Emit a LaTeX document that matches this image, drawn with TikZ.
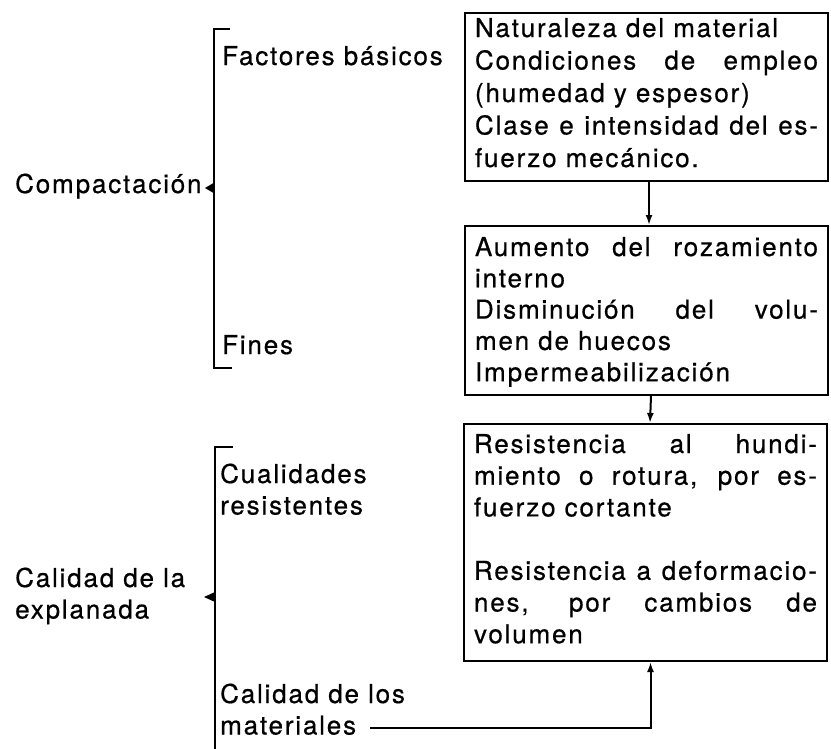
\documentclass[tikz,border=0pt]{standalone}
\usepackage{fontspec}
\setmainfont{TeX Gyre Heros}[LetterSpace=7,FakeBold=0.6]
\usetikzlibrary{arrows.meta,calc}
\newcommand\jl[1]{\makebox[\linewidth][s]{#1}}
\tikzset{
  box/.style={draw, line width=2pt, inner xsep=10pt, inner ysep=0pt, anchor=north west},
  lbl/.style={inner sep=0pt, anchor=base west, font=\fontsize{26}{31.5}\selectfont},
  arr/.style={line width=2pt, -{Latex[length=10pt,width=7pt]}},
  brk/.style={line width=2pt},
}
\begin{document}
\begin{tikzpicture}[x=1pt,y=-1pt]
\useasboundingbox (0,0) rectangle (831,748);
% boxes
\node[box] (b1) at (464,12) {\parbox[t][168pt][t]{343pt}{\fontsize{26}{32.5}\selectfont
\rule{0pt}{24pt}Naturaleza del material\\
\jl{Condiciones de empleo}\\
(humedad y espesor)\\
\jl{Clase e intensidad del es-}\\
fuerzo mecánico.}};
\node[box] (b2) at (464,225) {\parbox[t][169pt][t]{343pt}{\fontsize{26}{31.3}\selectfont
\rule{0pt}{30pt}\jl{Aumento del rozamiento}\\
interno\\
\jl{Disminución del volu-}\\
men de huecos\\
Impermeabilización}};
\node[box] (b3) at (463,423) {\parbox[t][237pt][t]{343pt}{\fontsize{26}{31.7}\selectfont
\rule{0pt}{29pt}\jl{Resistencia al hundi-}\\
\jl{miento o rotura, por es-}\\
fuerzo cortante\\
\mbox{}\\
\jl{Resistencia a deformacio-}\\
\jl{nes, por cambios de}\\
volumen}};
% left labels
\node[lbl] (comp) at (15,193) {Compactación};
\node[lbl] (fb) at (222,65) {Factores básicos};
\node[lbl] (fin) at (222,354) {Fines};
\node[lbl] (cual) at (220,483) {\begin{tabular}[t]{@{}l@{}}Cualidades\\resistentes\end{tabular}};
\node[lbl] (cal) at (15,587) {\begin{tabular}[t]{@{}l@{}}Calidad de la\\explanada\end{tabular}};
\node[lbl] (mat) at (220,703) {\begin{tabular}[t]{@{}l@{}}Calidad de los\\materiales\end{tabular}};
% brackets
\draw[brk] (230,29) -- (213.5,29) -- (213.5,368) -- (232,368);
\fill (213.5,183) -- (205,188) -- (213.5,193) -- cycle;
\draw[brk] (233,447) -- (215,447) -- (215,752);
\fill (215,592) -- (204,597) -- (215,602) -- cycle;
% connectors
\draw[arr] ([xshift=2.5pt]b1.south) -- ([xshift=2.5pt]b2.north);
\draw[arr] ([xshift=4.5pt]b2.south) -- ([xshift=4.5pt]b3.north);
\coordinate (fe) at (370,728);
\draw[arr] (fe) -| ([xshift=5pt]b3.south);
\end{tikzpicture}
\end{document}
